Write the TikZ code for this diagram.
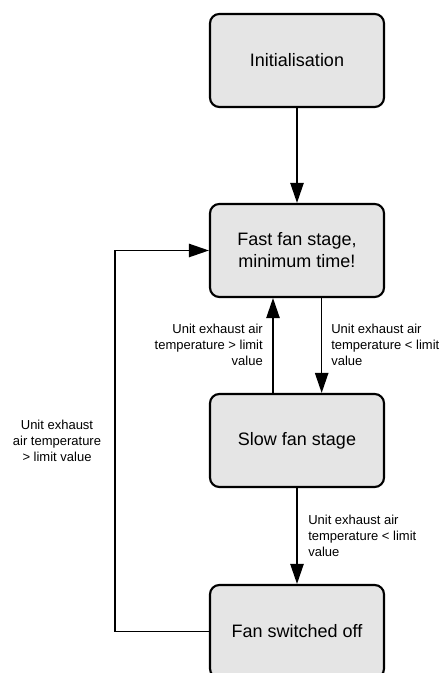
\documentclass[tikz,border=0pt]{standalone}
\usepackage{fontspec}
\setmainfont{Liberation Sans}
\usetikzlibrary{arrows.meta, positioning}
\definecolor{stagegray}{RGB}{229,229,229}

\begin{document}
\begin{tikzpicture}[x=0.75pt, y=0.75pt]
    \tikzset{fanstage/.style={rectangle, rounded corners=7pt, draw=black,
                          line width=1.6pt, fill=stagegray, minimum width=130.5pt,
                          minimum height=69.75pt, align=center,
                          font=\fontsize{13.5}{16.5}\selectfont},
             condlabel/.style={inner sep=0pt, font=\fontsize{9.75}{12}\selectfont},
             flowarrow/.style={-{Triangle[length=15pt, width=10pt]}, line width=1.1pt}}
    \useasboundingbox (0,0) rectangle (442,673);
    \node[fanstage] (init) at (297, 612.5) {Initialisation};
    \node[fanstage] (fast) at (297, 422.5) {Fast fan stage,\\minimum time!};
    \node[fanstage] (slow) at (297, 232.5) {Slow fan stage};
    \node[fanstage] (off) at (297, 41.5) {Fan switched off};
    \coordinate (bend) at (115, 41.5);
    \draw[flowarrow] (init) -- (fast);
    \draw[flowarrow] ([xshift=-18pt]slow.north) -- ([xshift=-18pt]fast.south);
    \draw[flowarrow] ([xshift=18.5pt]fast.south) -- ([xshift=18.5pt]slow.north);
    \draw[flowarrow] (slow) -- (off);
    \draw[flowarrow] (off.west) -- (bend) |- (fast.west);
    \node[condlabel, anchor=east, align=right] (uplbl) at (263, 328)
      {Unit exhaust air\\temperature > limit\\value};
    \node[condlabel, anchor=west, align=left] (downlbl) at (331, 328)
      {Unit exhaust air\\temperature < limit\\value};
    \node[condlabel, anchor=west, align=left] (offlbl) at (308, 137)
      {Unit exhaust air\\temperature < limit\\value};
    \node[condlabel, align=center] (backlbl) at (57, 232)
      {Unit exhaust\\air temperature\\> limit value};
\end{tikzpicture}
\end{document}
